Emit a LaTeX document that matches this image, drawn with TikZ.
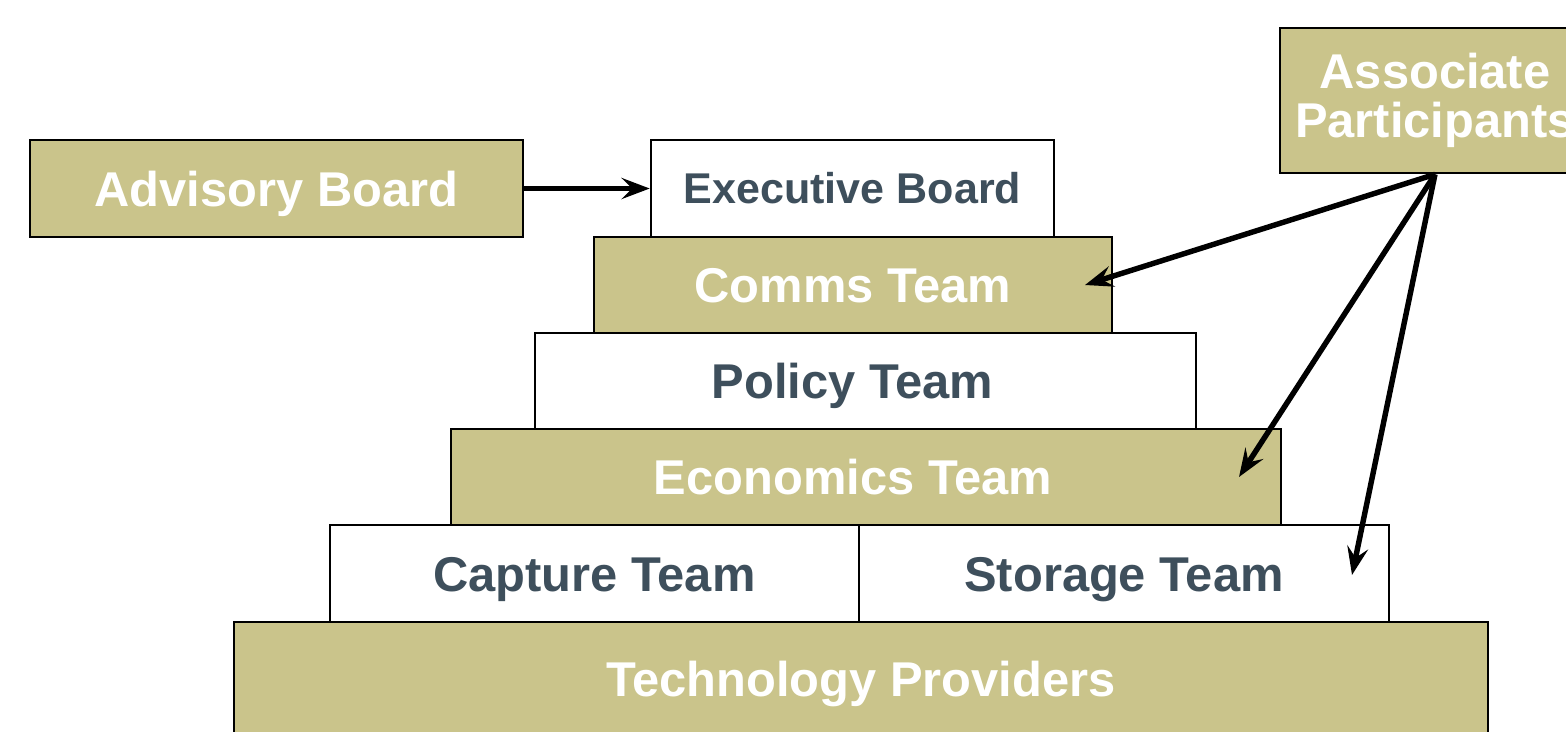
\documentclass[tikz,border=0pt]{standalone}
\usepackage{fontspec}
\setmainfont{Liberation Sans}
\usetikzlibrary{arrows.meta}
\definecolor{khaki}{RGB}{202,196,139}
\definecolor{slate}{RGB}{62,79,92}

\begin{document}
\begin{tikzpicture}[x=0.02cm, y=-0.02cm,
        box/.style={draw, line width=1.5pt, inner sep=0pt, text height=20pt, text depth=0pt, font=\fontsize{27.8}{27.8}\selectfont\bfseries},
        gold/.style={box, fill=khaki, text=white},
        plain/.style={box, fill=white, text=slate},
        link/.style={-{Stealth[length=16pt, width=12pt, inset=6pt]}, line width=3.1pt}]
        \useasboundingbox (0,0) rectangle (1566,731);
        \clip (0,0) rectangle (1566,731);
        % the layers, top to bottom
        \node (adv) at (276.5, 188.5) [gold, minimum width=9.86cm, minimum height=1.94cm] {Advisory Board};
        \node (exec) at (852.5, 188.5) [plain, minimum width=8.06cm, minimum height=1.94cm, text height=17.6pt, font=\fontsize{24.5}{24.5}\selectfont\bfseries] {Executive Board};
        \node (comms) at (853, 285) [gold, minimum width=10.36cm, minimum height=1.92cm] {Comms Team};
        % text kept on the middle axis, left of the box centre
        \node (policy) at (865.5, 381) [plain, minimum width=13.22cm, minimum height=1.92cm] {\hspace*{-0.52cm}Policy Team};
        \node (econ) at (866, 477) [gold, minimum width=16.6cm, minimum height=1.92cm] {\hspace*{-0.52cm}Economics Team};
        \node (capture) at (594.5, 573.5) [plain, minimum width=10.58cm, minimum height=1.94cm] {Capture Team};
        \node (storage) at (1124, 573.5) [plain, minimum width=10.6cm, minimum height=1.94cm] {Storage Team};
        \node (tech) at (861, 678.5) [gold, minimum width=25.08cm, minimum height=2.26cm] {Technology Providers};
        \node (assoc) at (1435, 100.5) [gold, minimum width=6.2cm, minimum height=2.9cm, align=center, text height=, text depth=] {Associate\\Participants};
        % arrow ends inside the teams
        \coordinate (commsin) at (1085, 285);
        \coordinate (econin) at (1239, 477);
        \coordinate (storagein) at (1352, 575);
        \draw[link] (adv) -- (exec);
        \draw[link] (assoc.south) -- (commsin);
        \draw[link] (assoc.south) -- (econin);
        \draw[link] (assoc.south) -- (storagein);
\end{tikzpicture}
\end{document}
